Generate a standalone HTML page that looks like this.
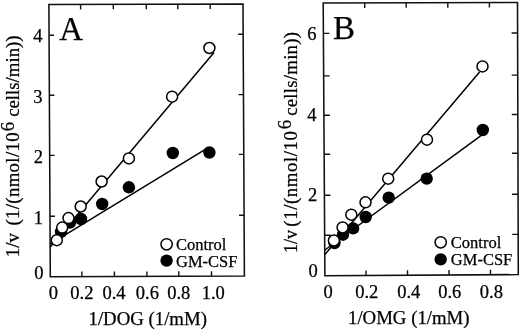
<!DOCTYPE html>
<html><head><meta charset="utf-8">
<style>
html,body{margin:0;padding:0;background:#fff;}
body{width:520px;height:329px;overflow:hidden;}
svg{display:block;will-change:transform;}
text{font-family:"Liberation Serif",serif;fill:#000;stroke:#000;stroke-width:0.25px;}
</style></head>
<body>
<svg width="520" height="329" viewBox="0 0 520 329">
<rect width="520" height="329" fill="#fff"/>
<g fill="none" stroke="#111" stroke-width="1.55" stroke-linejoin="miter">
<path d="M48.90 4.50L243.00 3.95L244.40 276.10L50.30 276.70Z"/>
<path d="M323.20 3.10L517.50 2.50L518.30 274.60L324.90 275.70Z"/>
</g>
<path stroke="#111" stroke-width="1.4" fill="none" d="M49.06 35.30h5.00M49.37 95.20h5.00M49.68 155.40h5.00M49.99 216.30h5.00M243.16 34.20h-5.00M243.47 94.60h-5.00M243.77 154.40h-5.00M244.09 215.30h-5.00M81.90 276.60v-5.00M114.40 276.50v-5.00M146.90 276.40v-5.00M178.80 276.30v-5.00M211.50 276.20v-5.00M80.60 4.41v5.00M113.30 4.32v5.00M146.30 4.22v5.00M177.80 4.13v5.00M210.20 4.04v5.00M323.39 33.40h6.00M323.65 75.90h6.00M323.90 115.30h6.00M324.14 154.20h6.00M324.40 195.20h6.00M324.65 235.30h6.00M517.59 33.00h-6.00M517.71 75.10h-6.00M517.83 114.50h-6.00M517.94 153.20h-6.00M518.06 194.20h-6.00M518.18 234.40h-6.00M366.00 275.47v-5.00M407.50 275.23v-5.00M449.00 274.99v-5.00M490.50 274.76v-5.00M364.70 2.97v5.00M406.20 2.84v5.00M447.80 2.72v5.00M489.40 2.59v5.00"/>
<g stroke="#000" stroke-width="1.5" fill="none">
<path d="M50.0 247.3 L214 52.6"/>
<path d="M50.0 244.1 L207 148.3"/>
<path d="M324.9 254.6 L479.6 71.9"/>
<path d="M324.9 250 L482 134.8"/>
</g>
<g fill="#000"><circle cx="61.0" cy="231.8" r="6.20"/><circle cx="70.0" cy="222.5" r="6.20"/><circle cx="81.0" cy="219.0" r="6.20"/><circle cx="102.2" cy="204.0" r="6.20"/><circle cx="128.9" cy="187.3" r="6.20"/><circle cx="172.8" cy="153.0" r="6.20"/><circle cx="209.4" cy="152.5" r="6.20"/><circle cx="334.5" cy="243.0" r="6.20"/><circle cx="343.0" cy="234.7" r="6.20"/><circle cx="353.1" cy="228.4" r="6.20"/><circle cx="365.7" cy="217.0" r="6.20"/><circle cx="388.7" cy="197.6" r="6.20"/><circle cx="426.7" cy="178.6" r="6.20"/><circle cx="482.8" cy="130.0" r="6.20"/></g>
<g fill="#fff" stroke="#000" stroke-width="1.50"><circle cx="56.8" cy="240.2" r="5.50"/><circle cx="62.2" cy="227.6" r="5.50"/><circle cx="68.5" cy="218.1" r="5.50"/><circle cx="80.7" cy="206.5" r="5.50"/><circle cx="101.6" cy="181.5" r="5.50"/><circle cx="128.9" cy="158.4" r="5.50"/><circle cx="172.1" cy="96.7" r="5.50"/><circle cx="209.4" cy="48.0" r="5.50"/><circle cx="333.9" cy="240.5" r="5.50"/><circle cx="342.6" cy="227.4" r="5.50"/><circle cx="351.3" cy="214.7" r="5.50"/><circle cx="365.5" cy="202.3" r="5.50"/><circle cx="388.2" cy="178.7" r="5.50"/><circle cx="427.0" cy="139.7" r="5.50"/><circle cx="482.5" cy="66.4" r="5.50"/></g>
<circle cx="166.6" cy="244.3" r="5.6" fill="#fff" stroke="#000" stroke-width="1.5"/>
<circle cx="166.6" cy="260.6" r="6.2" fill="#000"/>
<text x="176" y="249.8" font-size="16.5">Control</text>
<text x="176" y="266.7" font-size="16.5">GM-CSF</text>
<circle cx="440.7" cy="242.3" r="5.6" fill="#fff" stroke="#000" stroke-width="1.5"/>
<circle cx="440.7" cy="259.4" r="6.2" fill="#000"/>
<text x="450.8" y="248" font-size="16.5">Control</text>
<text x="450.8" y="265" font-size="16.5">GM-CSF</text>
<text x="59.3" y="40" font-size="33">A</text>
<text x="333" y="39.2" font-size="33">B</text>
<g font-size="18.5" text-anchor="end">
<text x="42.4" y="41.7">4</text>
<text x="42.6" y="102.7">3</text>
<text x="42.9" y="162.7">2</text>
<text x="42.9" y="223.5">1</text>
<text x="43.6" y="278.8">0</text>
<text x="316.6" y="39.8">6</text>
<text x="316.4" y="120.5">4</text>
<text x="317.2" y="201.2">2</text>
<text x="317.8" y="276.7">0</text>
</g>
<g font-size="18.5" text-anchor="middle">
<text x="53.3" y="298.8">0</text>
<text x="81.9" y="298.8">0.2</text>
<text x="114.0" y="298.8">0.4</text>
<text x="147.4" y="298.8">0.6</text>
<text x="178.7" y="298.8">0.8</text>
<text x="213.3" y="298.8">1.0</text>
<text x="328.1" y="297.5">0</text>
<text x="366.7" y="297.5">0.2</text>
<text x="408.7" y="297.5">0.4</text>
<text x="449.8" y="297.5">0.6</text>
<text x="491.4" y="297.5">0.8</text>
</g>
<text x="88.5" y="324.8" font-size="18.8">1/DOG (1/mM)</text>
<text x="348" y="323.5" font-size="18.8">1/OMG (1/mM)</text>
<g font-size="18.8">
<text transform="translate(19.4 257.2) rotate(-90)">1/v</text>
<text transform="translate(19.4 225.6) rotate(-90)" textLength="93.2" lengthAdjust="spacing">(1/(nmol/10</text>
<text transform="translate(14.1 131.2) rotate(-90)">6</text>
<text transform="translate(19.4 116.8) rotate(-90)">cells/min))</text>
<text transform="translate(296.6 253.0) rotate(-90)" textLength="23.2" lengthAdjust="spacingAndGlyphs">1/v</text>
<text transform="translate(296.6 226.7) rotate(-90)" textLength="95.7" lengthAdjust="spacing">(1/(nmol/10</text>
<text transform="translate(291.3 129.2) rotate(-90)">6</text>
<text transform="translate(296.6 115.8) rotate(-90)" textLength="83.8" lengthAdjust="spacing">cells/min))</text>
</g>
</svg>
</body></html>
